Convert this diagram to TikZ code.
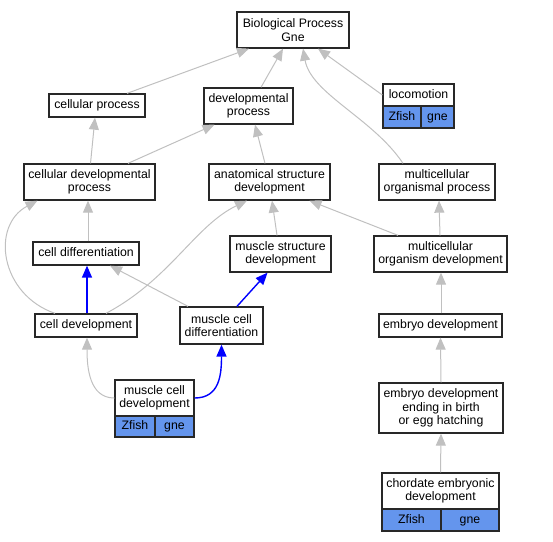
\documentclass[tikz,border=0pt]{standalone}
\usepackage{fontspec}
\setmainfont{Liberation Sans}
\usetikzlibrary{arrows.meta}
\definecolor{edgegray}{RGB}{192,192,192}
\definecolor{boxline}{RGB}{40,40,40}
\definecolor{cellblue}{RGB}{100,149,237}
\tikzset{
  box/.style={draw=boxline, line width=1.3pt, fill=white, align=center, inner sep=0pt,
    font=\fontsize{12.3}{13.4}\selectfont},
  one/.style={box, text height=8.8pt, text depth=2.6pt},
  cell/.style={one, fill=cellblue},
  garrow/.style={draw=edgegray, line width=1pt, -{Triangle[length=12pt,width=10pt]}},
  barrow/.style={draw=blue, line width=1.4pt, -{Triangle[length=12pt,width=10pt]}},
}
\newcommand{\bx}[6]{\node[#1, minimum width=#4pt, minimum height=#5pt] (#2) at (#3) {#6};}
\begin{document}
\begin{tikzpicture}[x=1pt,y=-1pt]
\useasboundingbox (0,0) rectangle (553,541);
% nodes
\bx{box}{bp}{293,30}{112}{36}{Biological Process\\Gne}
\bx{one}{cp}{97,105.5}{96}{23}{cellular process}
\bx{box}{dp}{248.5,106}{89}{36}{developmental\\process}
\bx{one}{loc}{418.5,95}{71}{22}{locomotion}
\bx{cell}{locz}{402,117}{38}{22}{Zfish}
\bx{cell}{locg}{437.5,117}{33}{22}{gne}
\bx{box}{cdp}{89.5,182}{131}{36}{cellular developmental\\process}
\bx{box}{asd}{269.5,182}{121}{36}{anatomical structure\\development}
\bx{box}{mop}{437,182}{116}{36}{multicellular\\organismal process}
\bx{one}{cdiff}{86,253.5}{106}{23}{cell differentiation}
\bx{box}{msd}{280.5,254}{101}{36}{muscle structure\\development}
\bx{box}{mod}{440.5,254}{133}{36}{multicellular\\organism development}
\bx{one}{cdev}{86,325.5}{102}{23}{cell development}
\bx{box}{mcd}{221.5,325.5}{83}{37}{muscle cell\\differentiation}
\bx{one}{ed}{440.5,325.5}{123}{23}{embryo development}
\bx{box}{mcdev}{154.5,398}{79}{36}{muscle cell\\development}
\bx{cell}{mcdevz}{135,426.5}{40}{21}{Zfish}
\bx{cell}{mcdevg}{174.5,426.5}{39}{21}{gne}
\bx{box}{edb}{441,408}{124}{50}{embryo development\\ending in birth\\or egg hatching}
\bx{box}{ced}{440.5,491}{117}{36}{chordate embryonic\\development}
\bx{cell}{cedz}{411.5,520}{59}{22}{Zfish}
\bx{cell}{cedg}{470,520}{58}{22}{gne}
% edges
\draw[garrow] ([xshift=30pt]cp.north) -- ([xshift=-44pt]bp.south);
\draw[garrow] ([xshift=12.5pt]dp.north) -- ([xshift=-10pt]bp.south);
\draw[garrow] ([xshift=-34pt]mop.north) .. controls +(-30,-45) and +(8,45) .. ([xshift=10pt]bp.south);
\draw[garrow] (loc.west) -- ([xshift=25pt]bp.south);
\draw[garrow] ([xshift=1pt]cdp.north) -- ([xshift=-2pt]cp.south);
\draw[garrow] ([xshift=38.5pt]cdp.north) -- ([xshift=-34pt]dp.south);
\draw[garrow] ([xshift=-4.5pt]asd.north) -- ([xshift=6.5pt]dp.south);
\draw[garrow] ([xshift=-0.5pt]mod.north) -- ([xshift=2pt]mop.south);
\draw[garrow] ([xshift=2pt]cdiff.north) -- ([xshift=-1.5pt]cdp.south);
\draw[garrow] ([xshift=-31pt]cdev.north) .. controls +(-55,-19) and +(-47,25) .. ([xshift=-52pt]cdp.south);
\draw[garrow] ([xshift=20pt]cdev.north) .. controls +(64,-34) and +(-52,25) .. ([xshift=-22.5pt]asd.south);
\draw[barrow] ([xshift=1pt]cdev.north) -- ([xshift=1pt]cdiff.south);
\draw[garrow] ([xshift=-33.5pt]mcd.north) -- ([xshift=24pt]cdiff.south);
\draw[barrow] ([xshift=15.5pt]mcd.north) -- ([xshift=-13pt]msd.south);
\draw[garrow] ([xshift=-3.5pt]msd.north) -- ([xshift=2.5pt]asd.south);
\draw[garrow] ([xshift=-42.5pt]mod.north) -- ([xshift=40pt]asd.south);
\draw[garrow] ([xshift=0.5pt]ed.north) -- ([xshift=0.5pt]mod.south);
\draw[garrow] (mcdev.west) .. controls +(-25,0) and +(0,30) .. ([xshift=1pt]cdev.south);
\draw[barrow] (mcdev.east) .. controls +(25,0) and +(0,30) .. (mcd.south);
\draw[garrow] (edb.north) -- (ed.south);
\draw[garrow] (ced.north) -- (edb.south);
\end{tikzpicture}
\end{document}
